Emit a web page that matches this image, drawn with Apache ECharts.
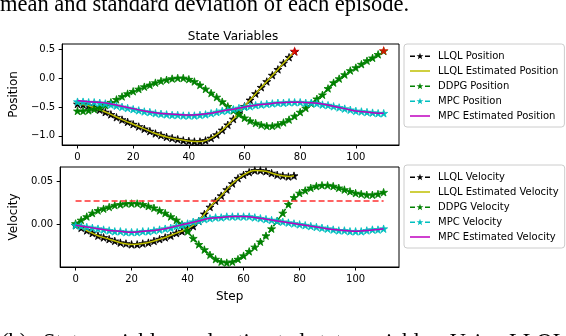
<!DOCTYPE html>
<html>
<head>
<meta charset="utf-8">
<script src="https://cdn.jsdelivr.net/npm/echarts@6/dist/echarts.min.js"></script>
<style>
html, body { margin: 0; padding: 0; background: #fff; }
#chart { width: 566px; height: 336px; }
</style>
</head>
<body>
<div id="chart"></div>
<script>
// steps (x values)
const stepsLLQL = [0,2,4,6,8,10,12,14,16,18,20,22,24,26,28,30,32,34,36,38,40,42,44,46,48,50,52,54,56,58,60,62,64,66,68,70,72,74,76,78];
const stepsFull = [0,2,4,6,8,10,12,14,16,18,20,22,24,26,28,30,32,34,36,38,40,42,44,46,48,50,52,54,56,58,60,62,64,66,68,70,72,74,76,78,80,82,84,86,88,90,92,94,96,98,100,102,104,106,108,110];
const stepsLLQLEst = [0,4,8,12,16,20,24,28,32,36,40,44,48,52,56,60,64,68,72,76,78];
const stepsMPCEst = [0,4,8,12,16,20,24,28,32,36,40,44,48,52,56,60,64,68,72,76,80,84,88,92,96,100,104,108,110];
const xTicks = [0, 20, 40, 60, 80, 100];

// position plot
const llqlPos = [-0.45,-0.46,-0.48,-0.51,-0.55,-0.59,-0.63,-0.68,-0.72,-0.76,-0.80,-0.84,-0.88,-0.92,-0.96,-0.99,-1.02,-1.04,-1.06,-1.08,-1.09,-1.10,-1.10,-1.08,-1.04,-0.98,-0.90,-0.81,-0.71,-0.60,-0.49,-0.38,-0.27,-0.16,-0.06,0.05,0.15,0.26,0.36,0.46];
const llqlPosEst = [-0.45,-0.48,-0.55,-0.63,-0.72,-0.80,-0.88,-0.96,-1.02,-1.06,-1.09,-1.10,-1.04,-0.90,-0.71,-0.49,-0.27,-0.06,0.15,0.36,0.46];
const ddpgPos = [-0.57,-0.57,-0.56,-0.54,-0.51,-0.47,-0.42,-0.37,-0.32,-0.27,-0.23,-0.19,-0.15,-0.12,-0.08,-0.05,-0.03,-0.01,0.00,0.00,-0.02,-0.06,-0.12,-0.19,-0.26,-0.33,-0.41,-0.49,-0.56,-0.63,-0.69,-0.74,-0.78,-0.81,-0.83,-0.83,-0.81,-0.77,-0.72,-0.66,-0.59,-0.52,-0.44,-0.36,-0.29,-0.18,-0.08,-0.01,0.06,0.13,0.18,0.24,0.30,0.35,0.41,0.47];
const mpcPos = [-0.41,-0.41,-0.42,-0.42,-0.43,-0.44,-0.46,-0.48,-0.50,-0.52,-0.54,-0.56,-0.58,-0.59,-0.61,-0.62,-0.63,-0.64,-0.64,-0.65,-0.65,-0.65,-0.64,-0.63,-0.61,-0.59,-0.57,-0.56,-0.54,-0.52,-0.50,-0.49,-0.47,-0.46,-0.45,-0.44,-0.43,-0.43,-0.42,-0.42,-0.42,-0.43,-0.43,-0.44,-0.46,-0.47,-0.49,-0.51,-0.53,-0.55,-0.57,-0.58,-0.59,-0.60,-0.61,-0.61];
const mpcPosEst = [-0.39,-0.41,-0.42,-0.45,-0.49,-0.53,-0.57,-0.60,-0.62,-0.63,-0.64,-0.63,-0.61,-0.57,-0.54,-0.50,-0.47,-0.45,-0.43,-0.42,-0.42,-0.43,-0.45,-0.49,-0.53,-0.57,-0.59,-0.61,-0.61];
const endStarsPos = [[78, 0.47], [110, 0.48]];

// velocity plot
const llqlVel = [-0.001,-0.004,-0.007,-0.010,-0.013,-0.015,-0.017,-0.019,-0.021,-0.022,-0.023,-0.023,-0.022,-0.021,-0.019,-0.017,-0.015,-0.013,-0.010,-0.008,-0.005,-0.002,0.004,0.012,0.020,0.027,0.033,0.040,0.047,0.053,0.057,0.060,0.062,0.062,0.061,0.059,0.057,0.056,0.055,0.056];
const llqlVelEst = [-0.001,-0.007,-0.013,-0.017,-0.021,-0.023,-0.022,-0.019,-0.015,-0.010,-0.005,0.004,0.020,0.033,0.047,0.057,0.062,0.061,0.057,0.055,0.056];
const ddpgVel = [0.001,0.005,0.009,0.013,0.016,0.018,0.020,0.022,0.023,0.024,0.024,0.024,0.023,0.021,0.019,0.016,0.013,0.009,0.005,0.000,-0.008,-0.016,-0.023,-0.029,-0.035,-0.040,-0.043,-0.044,-0.043,-0.040,-0.036,-0.031,-0.026,-0.020,-0.013,-0.005,0.004,0.013,0.023,0.031,0.036,0.039,0.042,0.044,0.045,0.045,0.044,0.042,0.040,0.038,0.036,0.035,0.034,0.034,0.035,0.037];
const mpcVel = [-0.001,-0.002,-0.003,-0.004,-0.005,-0.006,-0.007,-0.008,-0.008,-0.009,-0.009,-0.009,-0.008,-0.008,-0.007,-0.006,-0.005,-0.004,-0.002,-0.001,0.001,0.003,0.004,0.006,0.007,0.008,0.008,0.009,0.009,0.009,0.009,0.009,0.008,0.007,0.006,0.005,0.004,0.003,0.002,0.001,0.000,-0.001,-0.002,-0.003,-0.004,-0.005,-0.006,-0.007,-0.007,-0.008,-0.008,-0.008,-0.007,-0.006,-0.006,-0.005];
const mpcVelEst = [-0.001,-0.003,-0.005,-0.007,-0.008,-0.009,-0.008,-0.007,-0.005,-0.002,0.001,0.004,0.007,0.008,0.009,0.009,0.008,0.006,0.004,0.002,0.000,-0.002,-0.004,-0.006,-0.007,-0.008,-0.007,-0.006,-0.005];
const refVelStep = [0, 110];
const refVel = [0.027, 0.027];

const STAR = 'path://M50,0 L61,35 L98,35 L68,57 L79,91 L50,70 L21,91 L32,57 L2,35 L39,35 Z';
// legend handles: "-*-" and a plain line
const ICON_DASH_STAR = 'path://M0,2.75 L5,2.75 L5,4.25 L0,4.25 Z M15,2.75 L20,2.75 L20,4.25 L15,4.25 Z ' +
    'M10,0.1 L10.85,2.53 L13.42,2.59 L11.38,4.15 L12.12,6.61 L10,5.15 L7.88,6.61 L8.62,4.15 L6.58,2.59 L9.15,2.53 Z';
const ICON_LINE = 'path://M0,0 L20,0 L20,1.5 L0,1.5 Z';
const FONT = 'DejaVu Sans';

function pairs(xs, ys) {
    return xs.map((x, i) => [x, ys[i]]);
}

// dashed line with a star on every point (matplotlib '*--')
function starLine(name, color, xs, ys, idx, z) {
    return {
        name: name, type: 'line', xAxisIndex: idx, yAxisIndex: idx,
        data: pairs(xs, ys),
        symbol: STAR, symbolSize: 8, symbolKeepAspect: true, showSymbol: true,
        itemStyle: { color: color, borderColor: color, borderWidth: 0.8 },
        lineStyle: { color: color, width: 1.5, type: [5.5, 2.4] },
        z: z, animation: false, silent: true
    };
}

function solidLine(name, color, xs, ys, idx, z) {
    return {
        name: name, type: 'line', xAxisIndex: idx, yAxisIndex: idx,
        data: pairs(xs, ys), smooth: 0.3,
        symbol: 'none', showSymbol: false,
        itemStyle: { color: color },
        lineStyle: { color: color, width: 1.5 },
        z: z, animation: false, silent: true
    };
}

function xAxisFor(idx, name) {
    return {
        type: 'value', gridIndex: idx, min: -5.5, max: 115.5,
        axisLine: { show: true, onZero: false, lineStyle: { color: '#000', width: 1 } },
        axisTick: { show: true, length: 3.5, customValues: xTicks, lineStyle: { color: '#000' } },
        axisLabel: { customValues: xTicks, margin: 7, color: '#000', fontSize: 10, fontFamily: FONT },
        splitLine: { show: false },
        name: name, nameLocation: 'middle', nameGap: 24,
        nameTextStyle: { color: '#000', fontSize: 12, fontFamily: FONT }
    };
}

function yAxisFor(idx, name, min, max, ticks, digits) {
    return {
        type: 'value', gridIndex: idx, min: min, max: max,
        axisLine: { show: true, onZero: false, lineStyle: { color: '#000', width: 1 } },
        axisTick: { show: true, length: 3.5, customValues: ticks, lineStyle: { color: '#000' } },
        axisLabel: {
            customValues: ticks, margin: 7, color: '#000', fontSize: 10, fontFamily: FONT,
            formatter: v => v.toFixed(digits).replace('-', '\u2212')
        },
        splitLine: { show: false },
        name: name, nameLocation: 'middle', nameGap: 34, nameRotate: 90,
        nameTextStyle: { color: '#000', fontSize: 12, fontFamily: FONT }
    };
}

function legendAt(top, names, icons) {
    return {
        data: names.map((n, i) => ({ name: n, icon: icons[i] })),
        orient: 'vertical', left: 404, top: top,
        itemWidth: 20, itemHeight: 7, itemGap: 3,
        padding: [6, 6, 5, 6],
        backgroundColor: '#fff', borderColor: '#ccc', borderWidth: 1, borderRadius: 3,
        selectedMode: false,
        itemStyle: { borderWidth: 0 },
        textStyle: { color: '#000', fontSize: 10, fontFamily: FONT, lineHeight: 12, padding: [0, 0, 0, 3] }
    };
}

const legendIcons = [ICON_DASH_STAR, ICON_LINE, ICON_DASH_STAR, ICON_DASH_STAR, ICON_LINE];

const chart = echarts.init(document.getElementById('chart'));

const option = {
    backgroundColor: '#fff',
    animation: false,
    title: {
        text: 'State Variables', left: 228, top: 26, textAlign: 'center',
        textStyle: { color: '#000', fontSize: 12, fontWeight: 'normal', fontFamily: FONT }
    },
    grid: [
        { left: 57, top: 44, width: 342, height: 101, show: true, borderColor: '#000', borderWidth: 1, backgroundColor: 'transparent' },
        { left: 57, top: 167, width: 342, height: 100, show: true, borderColor: '#000', borderWidth: 1, backgroundColor: 'transparent' }
    ],
    xAxis: [xAxisFor(0, ''), xAxisFor(1, 'Step')],
    yAxis: [
        yAxisFor(0, 'Position', -1.16, 0.59, [-1.0, -0.5, 0.0, 0.5], 1),
        yAxisFor(1, 'Velocity', -0.049, 0.066, [0.0, 0.05], 2)
    ],
    legend: [
        legendAt(44, ['LLQL Position', 'LLQL Estimated Position', 'DDPG Position', 'MPC Position', 'MPC Estimated Position'], legendIcons),
        legendAt(165, ['LLQL Velocity', 'LLQL Estimated Velocity', 'DDPG Velocity', 'MPC Velocity', 'MPC Estimated Velocity'], legendIcons)
    ],
    graphic: [
        { type: 'text', left: 0, top: -6, silent: true,
          style: { text: 'mean and standard deviation of each episode.', font: '22.5px "Liberation Serif"', fill: '#000' } },
        { type: 'text', left: 1, top: 332, silent: true,
          style: { text: '(b)', font: '22.5px "Liberation Serif"', fill: '#000' } },
        { type: 'text', left: 43, top: 332, silent: true,
          style: { text: 'State variables and estimated state variables. Using LLQL', font: '22.5px "Liberation Serif"', fill: '#000' } }
    ],
    series: [
        starLine('LLQL Position', '#000', stepsLLQL, llqlPos, 0, 2),
        solidLine('LLQL Estimated Position', '#bfbf00', stepsLLQLEst, llqlPosEst, 0, 3),
        starLine('DDPG Position', '#008000', stepsFull, ddpgPos, 0, 4),
        starLine('MPC Position', '#00bfbf', stepsFull, mpcPos, 0, 5),
        solidLine('MPC Estimated Position', '#bf00bf', stepsMPCEst, mpcPosEst, 0, 6),
        {
            name: 'end', type: 'scatter', xAxisIndex: 0, yAxisIndex: 0,
            data: endStarsPos, symbol: STAR, symbolSize: 10, symbolKeepAspect: true,
            itemStyle: { color: '#ff0000' }, z: 7, silent: true
        },
        starLine('LLQL Velocity', '#000', stepsLLQL, llqlVel, 1, 2),
        solidLine('LLQL Estimated Velocity', '#bfbf00', stepsLLQLEst, llqlVelEst, 1, 3),
        starLine('DDPG Velocity', '#008000', stepsFull, ddpgVel, 1, 4),
        starLine('MPC Velocity', '#00bfbf', stepsFull, mpcVel, 1, 5),
        solidLine('MPC Estimated Velocity', '#bf00bf', stepsMPCEst, mpcVelEst, 1, 6),
        {
            name: 'reference', type: 'line', xAxisIndex: 1, yAxisIndex: 1,
            data: pairs(refVelStep, refVel), symbol: 'none',
            lineStyle: { color: '#ff3030', width: 1.5, type: [6, 3] },
            z: 7, silent: true
        }
    ]
};

chart.setOption(option);
</script>
</body>
</html>
